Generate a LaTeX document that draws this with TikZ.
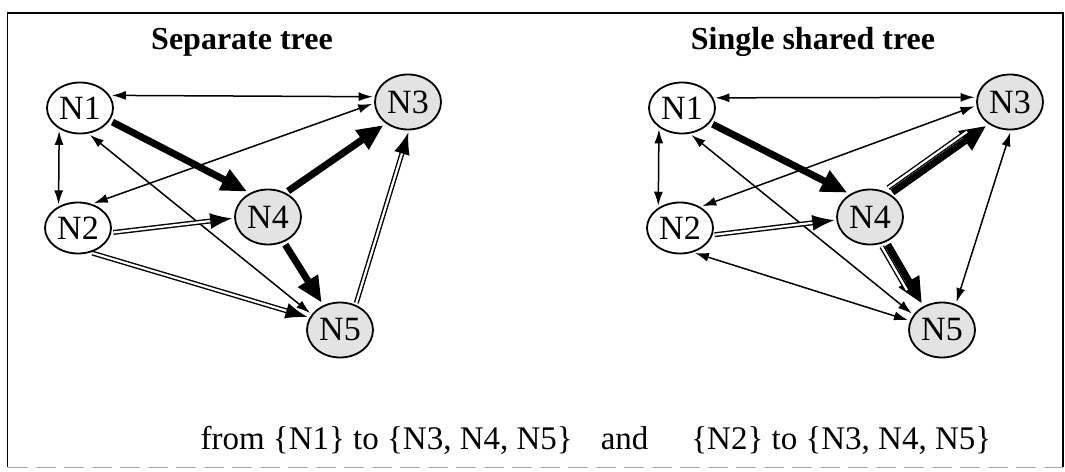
\documentclass[tikz,border=0pt]{standalone}
\usepackage{fontspec}
\setmainfont{Liberation Serif}
\usetikzlibrary{arrows.meta,shapes.geometric}

\begin{document}
\begin{tikzpicture}[x=1pt,y=-1pt,
  peer/.style={draw,ellipse,line width=1.8pt,minimum width=66pt,minimum height=51pt,
    inner sep=0pt,font=\fontsize{34}{36}\selectfont},
  member/.style={peer,fill=black!11,minimum height=55pt},
  link/.style={line width=1.5pt,{Latex[length=14pt,width=9pt]}-{Latex[length=14pt,width=9pt]},
    shorten <=2pt,shorten >=2pt},
  srcpath/.style={line width=7pt,-{Triangle[length=26pt,width=22pt]},shorten <=3pt,shorten >=3pt},
  grpline/.style={double,double distance=2.2pt,line width=1.4pt},
  grppath/.style={grpline,-{Latex[length=22pt,width=16pt]},shorten <=2pt,shorten >=2pt}]
  \useasboundingbox (0,0) rectangle (1065,471);
  \draw[line width=1.8pt] (7.5,467) -- (7.5,13) -- (1063,13) -- (1063,467);
  \draw[gray!70,line width=1pt,dash pattern=on 20pt off 8pt] (7.5,467) -- (1063,467);

  \node[font=\bfseries\fontsize{32}{36}\selectfont,anchor=base] (ltitle) at (242,49) {Separate tree};
  \node[font=\bfseries\fontsize{32}{36}\selectfont,anchor=base] (rtitle) at (813,49) {Single shared tree};

  % Separate tree
  \node[peer] (l1) at (80,108) {N1};
  \node[peer] (l2) at (78,228) {N2};
  \node[member] (l3) at (408,102) {N3};
  \node[member] (l4) at (268,217) {N4};
  \node[member] (l5) at (340,330) {N5};

  \draw[link] (l1.23) -- (l3.171);
  \draw[link] (l1.225) -- (l2.132);
  \draw[link] (l2.60) -- (l3.182);
  \draw[link] (l1.288) -- (l5.151);
  \draw[srcpath] (l1.337) -- (l4.127);
  \draw[srcpath] (l4.54) -- (l3.224);
  \draw[srcpath] (l4.302) -- (l5.124);
  \draw[grppath] (l2.352) -- (l4.182);
  \draw[grppath] (l2.297) -- (l5.158);
  \draw[grppath] (l5.58) -- (l3.272);

  % Single shared tree
  \node[peer] (r1) at (682,108) {N1};
  \node[peer] (r2) at (680,228) {N2};
  \node[member] (r3) at (1010,102) {N3};
  \node[member] (r4) at (870,217) {N4};
  \node[member] (r5) at (942,330) {N5};

  \draw[link] (r1.18) -- (r3.172);
  \draw[link] (r1.220) -- (r2.137);
  \draw[link] (r2.46) -- (r3.186);
  \draw[link] (r1.287) -- (r5.152);
  \draw[srcpath] (r1.332) -- (r4.131);
  \draw[srcpath] (r4.49) -- (r3.226);
  \draw[grpline,shorten <=2pt,shorten >=22pt,transform canvas={shift={(-3.6pt,5.2pt)}}] (r4.49) -- (r3.226);
  \draw[srcpath] (r4.303) -- (r5.128);
  \draw[grpline,shorten <=2pt,shorten >=22pt,transform canvas={shift={(-5.4pt,-3pt)}}] (r4.303) -- (r5.128);
  \draw[grppath] (r2.348) -- (r4.185);
  \draw[link] (r2.298) -- (r5.164);
  \draw[link] (r3.272) -- (r5.62);

  \node[font=\fontsize{33}{36}\selectfont,anchor=base west] (caption) at (197,449)
    {from \{N1\} to \{N3, N4, N5\}\hspace{0.85em}and\hspace{1.3em}\{N2\} to \{N3, N4, N5\}};
\end{tikzpicture}
\end{document}
